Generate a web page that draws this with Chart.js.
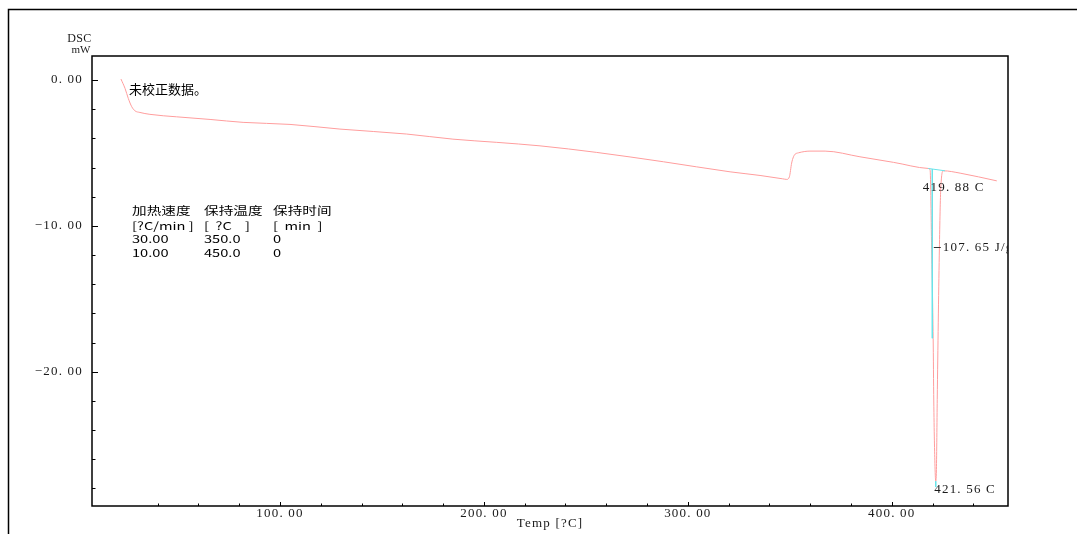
<!DOCTYPE html>
<html>
<head>
<meta charset="utf-8">
<script src="https://cdn.jsdelivr.net/npm/chart.js@4.4.1/dist/chart.umd.min.js"></script>
<style>
  html, body { margin: 0; padding: 0; background: #fff; }
  #wrap { position: relative; width: 1077px; height: 534px; }
</style>
</head>
<body>
<div id="wrap"><canvas id="dsc"></canvas></div>
<script>
// DSC trace: temperature (°C) and heat flow (mW)
const temps = [22.0, 24.0, 25.6, 27.3, 28.9, 31.3, 36.2, 49.3, 65.7, 81.9, 104.9, 129.4, 162.1, 184.8,
  206.3, 227.5, 255.3, 288.0, 320.7, 335.4, 346.5, 348.5, 349.8, 350.9, 351.8, 352.6, 354.2, 359.9,
  367.3, 384.4, 400.8, 417.9, 418.8, 419.6, 420.3, 420.6, 421.2, 421.56, 421.9, 422.3, 423.3, 424.0,
  425.3, 433.5, 451.5];
const heatFlow = [0.07, -0.57, -1.26, -1.83, -2.11, -2.22, -2.35, -2.52, -2.70, -2.90, -3.04, -3.36, -3.70, -4.05,
  -4.27, -4.51, -4.96, -5.60, -6.29, -6.54, -6.77, -6.81, -6.63, -5.69, -5.26, -5.08, -4.99, -4.87,
  -4.87, -5.26, -5.64, -6.06, -6.17, -12.0, -17.7, -22.0, -26.5, -27.5, -26.7, -21.9, -12.0, -7.54,
  -6.22, -6.38, -6.91];

// Peak analysis
const baselineTemps = [417.9, 426.1];
const baselineFlow = [-6.06, -6.22];
const onsetTemp = 419.88;
const onsetFlow = [-6.10, -17.7];
const peakTemp = 421.56;
const peakFlow = [-27.5, -27.9];
const enthalpy = 107.65;
const enthalpyFlow = -11.43;

// Axis ticks
const xMajorTicks = [100, 200, 300, 400];
const yMajorTicks = [0, -10, -20];

// Program table
const tableHeaders = ['加热速度', '保持温度', '保持时间'];
const tableUnits = ['[?C/min ]', '[  ?C    ]', '[  min  ]'];
const heatRates = ['30.00', '10.00'];
const holdTemps = ['350.0', '450.0'];
const holdTimes = ['0', '0'];

const fmt = v => (v === 0 ? 0 : v).toFixed(2).replace('.', '. ').replace('-', '\u2212');
const pts = (xs, ys) => xs.map((x, i) => ({ x, y: ys[i] }));

const RED = '#ff9d9d';
const CYAN = '#6ae4ea';
const INK = '#1a1a1a';
const SERIF = '"Liberation Serif", "DejaVu Serif", serif';
const CJK = '"Noto Sans CJK SC", "Noto Sans", sans-serif';

const framePlugin = {
  id: 'frame',
  beforeDraw(chart) {
    chart.ctx.letterSpacing = '1.2px';
  },
  afterDraw(chart) {
    const ctx = chart.ctx;
    const a = chart.chartArea;
    const xs = chart.scales.x, ys = chart.scales.y;
    ctx.save();
    ctx.letterSpacing = '0px';

    // outer sheet border
    ctx.strokeStyle = '#000';
    ctx.lineWidth = 1.5;
    ctx.beginPath();
    ctx.moveTo(8.5, 534);
    ctx.lineTo(8.5, 9.5);
    ctx.lineTo(1077, 9.5);
    ctx.stroke();

    // plot box
    ctx.strokeRect(a.left, a.top, a.right - a.left, a.bottom - a.top);

    // inward tick marks
    ctx.lineWidth = 1;
    ctx.beginPath();
    xs.ticks.forEach(t => {
      const px = Math.round(xs.getPixelForValue(t.value)) + 0.5;
      const len = xMajorTicks.includes(t.value) ? 4 : 2.5;
      ctx.moveTo(px, a.bottom);
      ctx.lineTo(px, a.bottom - len);
    });
    ys.ticks.forEach(t => {
      const py = Math.round(ys.getPixelForValue(t.value)) + 0.5;
      const len = yMajorTicks.includes(t.value) ? 6 : 3.5;
      ctx.moveTo(a.left, py);
      ctx.lineTo(a.left + len, py);
    });
    ctx.stroke();

    // axis unit labels
    ctx.fillStyle = INK;
    ctx.textAlign = 'right';
    ctx.textBaseline = 'middle';
    ctx.font = '12px ' + SERIF;
    ctx.letterSpacing = '0.3px';
    ctx.fillText('DSC', 91.5, 38.5);
    ctx.font = '11px ' + SERIF;
    ctx.letterSpacing = '0px';
    ctx.fillText('mW', 90.5, 50.5);

    // status note
    ctx.textAlign = 'left';
    ctx.fillStyle = '#000';
    ctx.font = '13px ' + CJK;
    ctx.fillText('未校正数据。', 129, 89);

    // program table, drawn horizontally stretched
    const cols = [132, 204, 273];
    const rows = [211, 225.5, 238.5, 252.5];
    const stretch = (txt, x, y) => {
      ctx.save();
      ctx.translate(x, y);
      ctx.scale(1.33, 1);
      ctx.fillText(txt, 0, 0);
      ctx.restore();
    };
    ctx.font = '11px ' + CJK;
    tableHeaders.forEach((h, i) => stretch(h, cols[i], rows[0]));
    tableUnits.forEach((u, i) => stretch(u, cols[i], rows[1]));
    heatRates.forEach((r, j) => {
      stretch(r, cols[0], rows[2 + j]);
      stretch(holdTemps[j], cols[1], rows[2 + j]);
      stretch(holdTimes[j], cols[2], rows[2 + j]);
    });

    // peak annotations
    ctx.fillStyle = INK;
    ctx.font = '13px ' + SERIF;
    ctx.letterSpacing = '1.2px';
    const onX = xs.getPixelForValue(onsetTemp);
    const onY = ys.getPixelForValue(onsetFlow[0]);
    ctx.fillText(fmt(onsetTemp) + ' C', onX - 9.5, onY + 19);

    const pkX = xs.getPixelForValue(peakTemp);
    const pkY = ys.getPixelForValue(peakFlow[0]);
    ctx.fillText(fmt(peakTemp) + ' C', pkX - 1.5, pkY + 8.5);

    ctx.beginPath();
    ctx.rect(a.left, a.top, a.right - a.left, a.bottom - a.top);
    ctx.clip();
    const enY = Math.round(ys.getPixelForValue(enthalpyFlow)) + 0.5;
    ctx.strokeStyle = '#333';
    ctx.beginPath();
    ctx.moveTo(onX + 1.5, enY);
    ctx.lineTo(onX + 8.5, enY);
    ctx.stroke();
    ctx.fillText(fmt(enthalpy) + ' J/g', onX + 10.5, enY);

    ctx.restore();
  }
};

new Chart(document.getElementById('dsc'), {
  type: 'scatter',
  data: {
    datasets: [
      { data: pts(baselineTemps, baselineFlow), showLine: true, borderColor: CYAN, borderWidth: 1, pointRadius: 0 },
      { data: pts([onsetTemp, onsetTemp], onsetFlow), showLine: true, borderColor: CYAN, borderWidth: 1, pointRadius: 0 },
      { data: pts([peakTemp, peakTemp], peakFlow), showLine: true, borderColor: CYAN, borderWidth: 1, pointRadius: 0 },
      { data: pts(temps, heatFlow), showLine: true, borderColor: RED, borderWidth: 1, pointRadius: 0,
        cubicInterpolationMode: 'monotone' }
    ]
  },
  options: {
    responsive: true,
    maintainAspectRatio: false,
    animation: false,
    events: [],
    layout: { padding: { top: 56, right: 69, left: 0, bottom: 0 } },
    plugins: { legend: { display: false }, tooltip: { enabled: false } },
    scales: {
      x: {
        type: 'linear',
        min: 7.8,
        max: 457,
        afterBuildTicks: s => { s.ticks = s.ticks.filter(t => Math.abs(t.value % 20) < 1e-6); },
        afterFit: s => { s.height = 28; },
        grid: { display: false, drawTicks: false },
        border: { display: false },
        ticks: {
          stepSize: 20, autoSkip: false, maxRotation: 0, padding: 0,
          color: INK, font: { family: SERIF, size: 13 },
          callback: v => (xMajorTicks.includes(v) ? fmt(v) : '')
        },
        title: {
          display: true, text: 'Temp [?C]', color: INK,
          font: { family: SERIF, size: 13 }, padding: { top: 0, bottom: 3 }
        }
      },
      y: {
        type: 'linear',
        min: -29.2,
        max: 1.65,
        afterBuildTicks: s => { s.ticks = s.ticks.filter(t => Math.abs(t.value % 2) < 1e-6); },
        afterFit: s => { s.width = 92; },
        grid: { display: false, drawTicks: false },
        border: { display: false },
        ticks: {
          stepSize: 2, autoSkip: false, padding: 9,
          color: INK, font: { family: SERIF, size: 13 },
          callback: v => (yMajorTicks.includes(v) ? fmt(v) : '')
        }
      }
    }
  },
  plugins: [framePlugin]
});
</script>
</body>
</html>
